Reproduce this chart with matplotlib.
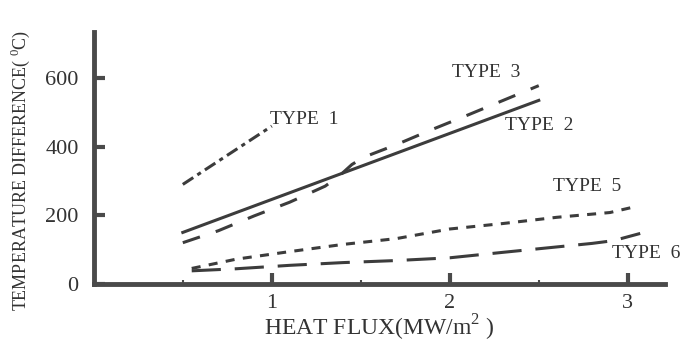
import matplotlib
matplotlib.use('Agg')
import matplotlib.pyplot as plt

# values
flux1 = [0.5, 1.0]
diff1 = [290, 460]
flux2 = [0.5, 2.5]
diff2 = [150, 535]
flux3 = [0.5, 0.7, 0.9, 1.1, 1.3, 1.38, 1.45, 1.52, 1.7, 1.9, 2.1, 2.3, 2.5]
diff3 = [120, 155, 198, 238, 285, 315, 348, 370, 406, 450, 492, 535, 578]
flux5 = [0.55, 0.8, 1.1, 1.4, 1.7, 2.0, 2.3, 2.6, 2.9, 3.05]
diff5 = [45, 72, 94, 115, 132, 160, 176, 194, 208, 226]
flux6 = [0.55, 0.8, 1.1, 1.4, 1.7, 2.0, 2.3, 2.55, 2.8, 2.92, 3.07]
diff6 = [38, 44, 54, 62, 68, 76, 92, 105, 118, 126, 147]

labels = ["TYPE  1", "TYPE  2", "TYPE  3", "TYPE  5", "TYPE  6"]
label_x = [0.99, 2.31, 2.01, 2.58, 2.91]
label_y = [478, 462, 617, 284, 88]

xticks = [1, 2, 3]
yticks = [0, 200, 400, 600]

plt.rcParams['font.family'] = ['Liberation Serif', 'DejaVu Serif']
plt.rcParams['mathtext.fontset'] = 'custom'
plt.rcParams['mathtext.rm'] = 'Liberation Serif'
plt.rcParams['lines.scale_dashes'] = False

ink = '#3c3c3c'
fig = plt.figure(figsize=(6.95, 3.42), dpi=100)
ax = fig.add_axes([0.135, 0.170, 0.822, 0.737])

lw = 2.2
ax.plot(flux1, diff1, color=ink, lw=lw, dashes=[9, 3.5, 3, 3.5])
ax.plot(flux2, diff2, color=ink, lw=lw)
ax.plot(flux3, diff3, color=ink, lw=lw, dashes=[13, 12])
ax.plot(flux5, diff5, color=ink, lw=lw, dashes=[6.5, 6])
ax.plot(flux6, diff6, color=ink, lw=lw, dashes=[21, 10])

for t, x, y in zip(labels, label_x, label_y):
    ax.text(x, y, t, fontsize=14, color='#333333', ha='left', va='center')

ax.set_xlim(0, 3.21)
ax.set_ylim(0, 735)
ax.set_xticks(xticks)
ax.set_xticks([0.5, 1.5, 2.5], minor=True)
ax.set_yticks(yticks)
ax.tick_params(axis='both', which='major', direction='in', length=8, width=3,
               color='#4a4a4a', labelsize=16, labelcolor='#333333', pad=7)
ax.tick_params(axis='x', which='minor', direction='in', length=3, width=1.5,
               color='#4a4a4a')
ax.tick_params(axis='y', pad=11)

for s in ['top', 'right']:
    ax.spines[s].set_visible(False)
for s in ['left', 'bottom']:
    ax.spines[s].set_linewidth(3.5)
    ax.spines[s].set_color('#4a4a4a')

ax.set_xlabel("HEAT FLUX(MW/m$^{2}$ )", fontsize=17, color='#333333', labelpad=0)
ax.set_ylabel("TEMPERATURE DIFFERENCE( $^{0}$C)", fontsize=13, color='#333333')
ax.yaxis.set_label_coords(-0.108, 0.45)

plt.savefig("out.png", dpi=100)
